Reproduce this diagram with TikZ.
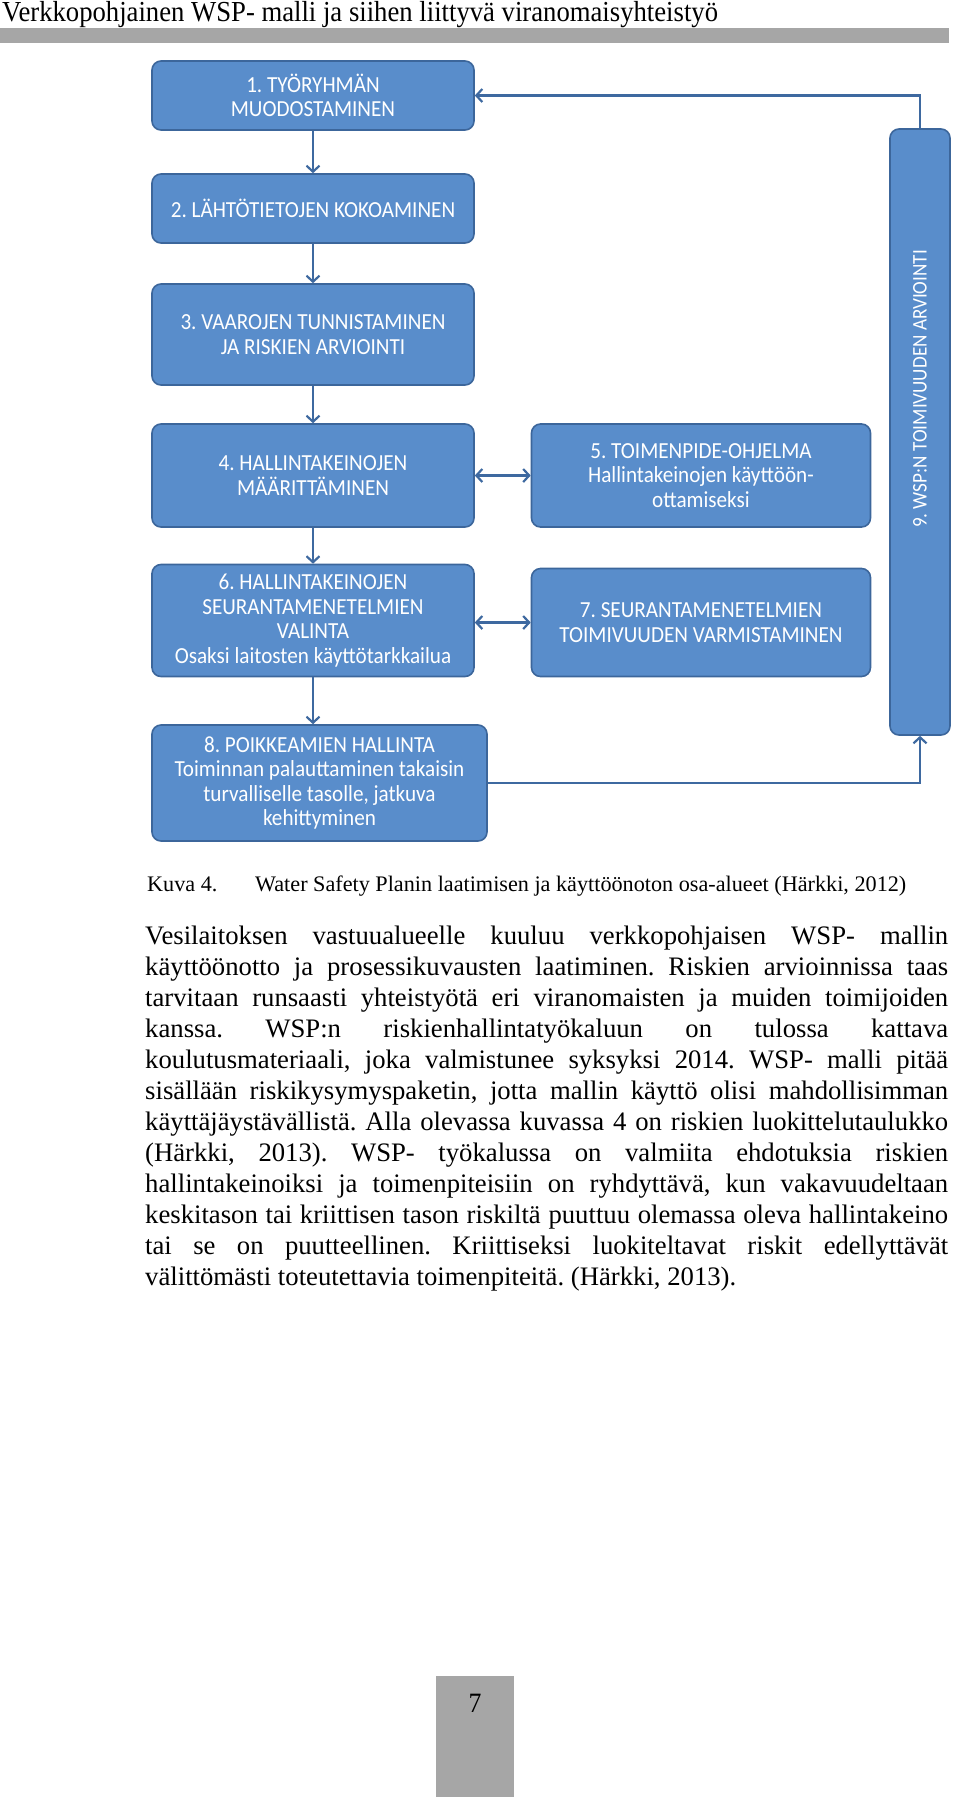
\documentclass[tikz,border=0pt]{standalone}
\usepackage{fontspec}
\setmainfont{Liberation Serif}
\newfontfamily\headfont{Liberation Serif}[FakeStretch=0.92]
\newfontfamily\boxfont{Carlito}[FakeStretch=0.92]
\usepackage{tikz}
\usetikzlibrary{arrows.meta,positioning}
\definecolor{boxfill}{RGB}{89,141,203}
\definecolor{boxedge}{RGB}{60,102,155}
\definecolor{flowcol}{RGB}{62,105,160}
\definecolor{bargray}{RGB}{166,166,166}
\newcommand{\bodysize}{\fontsize{26.7}{31}\selectfont}
\newcommand{\capsize}{\fontsize{22.2}{26}\selectfont}
\frenchspacing
\tikzset{
  wspbox/.style={draw=boxedge,fill=boxfill,line width=1.6pt,rounded corners=9pt,
    text=white,font=\boxfont\fontsize{23}{24.5}\selectfont,align=center,inner sep=0pt},
  flow/.style={draw=flowcol,line width=2.2pt},
  bodyline/.style={anchor=base west,inner sep=0pt,font=\bodysize}
}

\begin{document}
\begin{tikzpicture}[x=1pt,y=-1pt,>={Straight Barb[length=6pt,width=13pt]}]
\useasboundingbox (0,0) rectangle (960,1797);

% page head
\node[anchor=base west,inner sep=0pt,font=\headfont\fontsize{29}{32}\selectfont] (head) at (2,21.5) {Verkkopohjainen WSP- malli ja siihen liittyvä viranomaisyhteistyö};
\fill[bargray] (0,28) rectangle (949,43);

% boxes
\node[wspbox,minimum width=322,minimum height=69] (b1) at (313,95.5) {1. TYÖRYHMÄN\\MUODOSTAMINEN};
\node[wspbox,minimum width=322,minimum height=69] (b2) at (313,208.5) {2. LÄHTÖTIETOJEN KOKOAMINEN};
\node[wspbox,minimum width=322,minimum height=101] (b3) at (313,334.5) {3. VAAROJEN TUNNISTAMINEN\\JA RISKIEN ARVIOINTI};
\node[wspbox,minimum width=322,minimum height=103] (b4) at (313,475.5) {4. HALLINTAKEINOJEN\\MÄÄRITTÄMINEN};
\node[wspbox,minimum width=339,minimum height=103] (b5) at (701,475.5) {5. TOIMENPIDE-OHJELMA\\Hallintakeinojen käyttöön-\\ottamiseksi};
\node[wspbox,minimum width=322,minimum height=112] (b6) at (313,620.5) {6. HALLINTAKEINOJEN\\SEURANTAMENETELMIEN\\VALINTA\\Osaksi laitosten käyttötarkkailua};
\node[wspbox,minimum width=339,minimum height=108] (b7) at (701,622.5) {7. SEURANTAMENETELMIEN\\TOIMIVUUDEN VARMISTAMINEN};
\node[wspbox,minimum width=335,minimum height=116] (b8) at (319.5,783) {8. POIKKEAMIEN HALLINTA\\Toiminnan palauttaminen takaisin\\turvalliselle tasolle, jatkuva\\kehittyminen};
\node[wspbox,minimum width=60,minimum height=606] (b9) at (920,432) {};
\node[rotate=90,text=white,font=\boxfont\fontsize{20.8}{22}\selectfont] (b9txt) at ([yshift=43pt]b9.center) {9. WSP:N TOIMIVUUDEN ARVIOINTI};

% connectors
\draw[flow,->] (b1) -- (b2);
\draw[flow,->] (b2) -- (b3);
\draw[flow,->] (b3) -- (b4);
\draw[flow,->] (b4) -- (b6);
\draw[flow,->] (b6.south) -- (b6.south |- b8.north);
\draw[flow,<->] (b4.east) -- (b5.west);
\draw[flow,<->] (b7.west -| b6.east) -- (b7.west);
\draw[flow,->] (b9.north) |- (b1.east);
\draw[flow,->] (b8.east) -| (b9.south);

% caption
\node[anchor=base west,inner sep=0pt,font=\capsize] (kuva) at (147,891) {Kuva 4.};
\node[anchor=base west,inner sep=0pt,font=\capsize] (caption) at (255,891) {Water Safety Planin laatimisen ja käyttöönoton osa-alueet (Härkki, 2012)};

% body text
\foreach \txt [count=\i from 0] in {
  {Vesilaitoksen vastuualueelle kuuluu verkkopohjaisen WSP- mallin},
  {käyttöönotto ja prosessikuvausten laatiminen. Riskien arvioinnissa taas},
  {tarvitaan runsaasti yhteistyötä eri viranomaisten ja muiden toimijoiden},
  {kanssa. WSP:n riskienhallintatyökaluun on tulossa kattava},
  {koulutusmateriaali, joka valmistunee syksyksi 2014. WSP- malli pitää},
  {sisällään riskikysymyspaketin, jotta mallin käyttö olisi mahdollisimman},
  {käyttäjäystävällistä. Alla olevassa kuvassa 4 on riskien luokittelutaulukko},
  {(Härkki, 2013). WSP- työkalussa on valmiita ehdotuksia riskien},
  {hallintakeinoiksi ja toimenpiteisiin on ryhdyttävä, kun vakavuudeltaan},
  {keskitason tai kriittisen tason riskiltä puuttuu olemassa oleva hallintakeino},
  {tai se on puutteellinen. Kriittiseksi luokiteltavat riskit edellyttävät}}
  \node[bodyline] (line\i) at (145,944+31*\i) {\makebox[803pt][s]{\txt}};
\node[bodyline] (line11) at (145,1285) {välittömästi toteutettavia toimenpiteitä. (Härkki, 2013).};

% page number
\fill[bargray] (436,1676) rectangle (514,1797);
\node[anchor=base,inner sep=0pt,font=\headfont\fontsize{28}{30}\selectfont] (pagenum) at (475,1712) {7};

\end{tikzpicture}
\end{document}
